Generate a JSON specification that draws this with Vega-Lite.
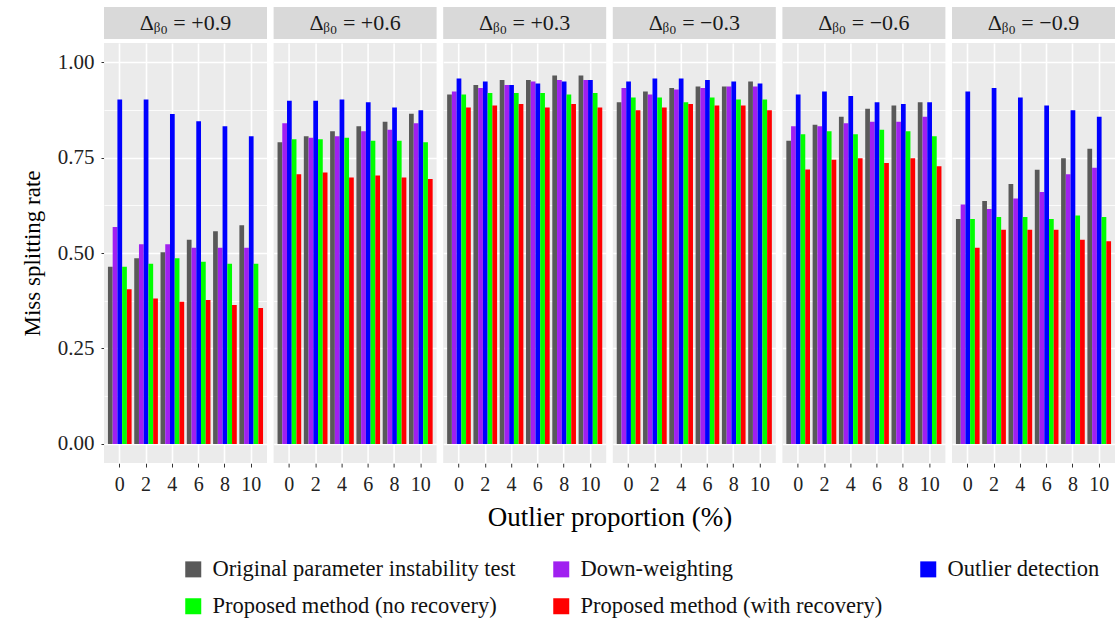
{
  "$schema": "https://vega.github.io/schema/vega-lite/v6.json",
  "background": "white",
  "padding": {"left": 21, "top": 7, "right": 2, "bottom": 6},
  "config": {
    "font": "Liberation Serif",
    "view": {"stroke": null},
    "axis": {"domain": false, "titleFontWeight": "normal", "labelFont": "Liberation Serif", "titleFont": "Liberation Serif"},
    "header": {"titleFontWeight": "normal", "titleFont": "Liberation Serif"},
    "legend": {"labelFont": "Liberation Serif"}
  },
  "datasets": {
    "strips": [
      {"panel": "Δᵦ₀ = +0.9"},
      {"panel": "Δᵦ₀ = +0.6"},
      {"panel": "Δᵦ₀ = +0.3"},
      {"panel": "Δᵦ₀ = −0.3"},
      {"panel": "Δᵦ₀ = −0.6"},
      {"panel": "Δᵦ₀ = −0.9"}
    ],
    "rates": [
      {"panel": "Δᵦ₀ = +0.9", "prop": 0, "Original parameter instability test": 0.464, "Down-weighting": 0.568, "Outlier detection": 0.902, "Proposed method (no recovery)": 0.464, "Proposed method (with recovery)": 0.405},
      {"panel": "Δᵦ₀ = +0.9", "prop": 2, "Original parameter instability test": 0.486, "Down-weighting": 0.523, "Outlier detection": 0.902, "Proposed method (no recovery)": 0.472, "Proposed method (with recovery)": 0.381},
      {"panel": "Δᵦ₀ = +0.9", "prop": 4, "Original parameter instability test": 0.502, "Down-weighting": 0.523, "Outlier detection": 0.864, "Proposed method (no recovery)": 0.486, "Proposed method (with recovery)": 0.372},
      {"panel": "Δᵦ₀ = +0.9", "prop": 6, "Original parameter instability test": 0.535, "Down-weighting": 0.514, "Outlier detection": 0.845, "Proposed method (no recovery)": 0.477, "Proposed method (with recovery)": 0.377},
      {"panel": "Δᵦ₀ = +0.9", "prop": 8, "Original parameter instability test": 0.557, "Down-weighting": 0.514, "Outlier detection": 0.832, "Proposed method (no recovery)": 0.472, "Proposed method (with recovery)": 0.364},
      {"panel": "Δᵦ₀ = +0.9", "prop": 10, "Original parameter instability test": 0.573, "Down-weighting": 0.514, "Outlier detection": 0.806, "Proposed method (no recovery)": 0.472, "Proposed method (with recovery)": 0.356},
      {"panel": "Δᵦ₀ = +0.6", "prop": 0, "Original parameter instability test": 0.790, "Down-weighting": 0.840, "Outlier detection": 0.899, "Proposed method (no recovery)": 0.798, "Proposed method (with recovery)": 0.706},
      {"panel": "Δᵦ₀ = +0.6", "prop": 2, "Original parameter instability test": 0.806, "Down-weighting": 0.802, "Outlier detection": 0.899, "Proposed method (no recovery)": 0.798, "Proposed method (with recovery)": 0.711},
      {"panel": "Δᵦ₀ = +0.6", "prop": 4, "Original parameter instability test": 0.819, "Down-weighting": 0.806, "Outlier detection": 0.902, "Proposed method (no recovery)": 0.802, "Proposed method (with recovery)": 0.698},
      {"panel": "Δᵦ₀ = +0.6", "prop": 6, "Original parameter instability test": 0.832, "Down-weighting": 0.819, "Outlier detection": 0.895, "Proposed method (no recovery)": 0.794, "Proposed method (with recovery)": 0.703},
      {"panel": "Δᵦ₀ = +0.6", "prop": 8, "Original parameter instability test": 0.844, "Down-weighting": 0.823, "Outlier detection": 0.881, "Proposed method (no recovery)": 0.794, "Proposed method (with recovery)": 0.698},
      {"panel": "Δᵦ₀ = +0.6", "prop": 10, "Original parameter instability test": 0.865, "Down-weighting": 0.840, "Outlier detection": 0.874, "Proposed method (no recovery)": 0.790, "Proposed method (with recovery)": 0.694},
      {"panel": "Δᵦ₀ = +0.3", "prop": 0, "Original parameter instability test": 0.915, "Down-weighting": 0.923, "Outlier detection": 0.957, "Proposed method (no recovery)": 0.915, "Proposed method (with recovery)": 0.881},
      {"panel": "Δᵦ₀ = +0.3", "prop": 2, "Original parameter instability test": 0.940, "Down-weighting": 0.932, "Outlier detection": 0.949, "Proposed method (no recovery)": 0.919, "Proposed method (with recovery)": 0.886},
      {"panel": "Δᵦ₀ = +0.3", "prop": 4, "Original parameter instability test": 0.953, "Down-weighting": 0.940, "Outlier detection": 0.940, "Proposed method (no recovery)": 0.919, "Proposed method (with recovery)": 0.890},
      {"panel": "Δᵦ₀ = +0.3", "prop": 6, "Original parameter instability test": 0.953, "Down-weighting": 0.949, "Outlier detection": 0.944, "Proposed method (no recovery)": 0.919, "Proposed method (with recovery)": 0.881},
      {"panel": "Δᵦ₀ = +0.3", "prop": 8, "Original parameter instability test": 0.965, "Down-weighting": 0.953, "Outlier detection": 0.949, "Proposed method (no recovery)": 0.915, "Proposed method (with recovery)": 0.890},
      {"panel": "Δᵦ₀ = +0.3", "prop": 10, "Original parameter instability test": 0.965, "Down-weighting": 0.953, "Outlier detection": 0.953, "Proposed method (no recovery)": 0.919, "Proposed method (with recovery)": 0.881},
      {"panel": "Δᵦ₀ = −0.3", "prop": 0, "Original parameter instability test": 0.895, "Down-weighting": 0.932, "Outlier detection": 0.949, "Proposed method (no recovery)": 0.907, "Proposed method (with recovery)": 0.874},
      {"panel": "Δᵦ₀ = −0.3", "prop": 2, "Original parameter instability test": 0.923, "Down-weighting": 0.915, "Outlier detection": 0.957, "Proposed method (no recovery)": 0.907, "Proposed method (with recovery)": 0.881},
      {"panel": "Δᵦ₀ = −0.3", "prop": 4, "Original parameter instability test": 0.932, "Down-weighting": 0.928, "Outlier detection": 0.957, "Proposed method (no recovery)": 0.895, "Proposed method (with recovery)": 0.890},
      {"panel": "Δᵦ₀ = −0.3", "prop": 6, "Original parameter instability test": 0.936, "Down-weighting": 0.932, "Outlier detection": 0.953, "Proposed method (no recovery)": 0.907, "Proposed method (with recovery)": 0.886},
      {"panel": "Δᵦ₀ = −0.3", "prop": 8, "Original parameter instability test": 0.936, "Down-weighting": 0.936, "Outlier detection": 0.949, "Proposed method (no recovery)": 0.902, "Proposed method (with recovery)": 0.886},
      {"panel": "Δᵦ₀ = −0.3", "prop": 10, "Original parameter instability test": 0.949, "Down-weighting": 0.936, "Outlier detection": 0.944, "Proposed method (no recovery)": 0.902, "Proposed method (with recovery)": 0.874},
      {"panel": "Δᵦ₀ = −0.6", "prop": 0, "Original parameter instability test": 0.794, "Down-weighting": 0.832, "Outlier detection": 0.915, "Proposed method (no recovery)": 0.811, "Proposed method (with recovery)": 0.719},
      {"panel": "Δᵦ₀ = −0.6", "prop": 2, "Original parameter instability test": 0.836, "Down-weighting": 0.832, "Outlier detection": 0.923, "Proposed method (no recovery)": 0.819, "Proposed method (with recovery)": 0.744},
      {"panel": "Δᵦ₀ = −0.6", "prop": 4, "Original parameter instability test": 0.857, "Down-weighting": 0.840, "Outlier detection": 0.911, "Proposed method (no recovery)": 0.811, "Proposed method (with recovery)": 0.748},
      {"panel": "Δᵦ₀ = −0.6", "prop": 6, "Original parameter instability test": 0.878, "Down-weighting": 0.844, "Outlier detection": 0.895, "Proposed method (no recovery)": 0.823, "Proposed method (with recovery)": 0.736},
      {"panel": "Δᵦ₀ = −0.6", "prop": 8, "Original parameter instability test": 0.886, "Down-weighting": 0.844, "Outlier detection": 0.890, "Proposed method (no recovery)": 0.819, "Proposed method (with recovery)": 0.748},
      {"panel": "Δᵦ₀ = −0.6", "prop": 10, "Original parameter instability test": 0.895, "Down-weighting": 0.857, "Outlier detection": 0.895, "Proposed method (no recovery)": 0.806, "Proposed method (with recovery)": 0.727},
      {"panel": "Δᵦ₀ = −0.9", "prop": 0, "Original parameter instability test": 0.589, "Down-weighting": 0.627, "Outlier detection": 0.923, "Proposed method (no recovery)": 0.589, "Proposed method (with recovery)": 0.514},
      {"panel": "Δᵦ₀ = −0.9", "prop": 2, "Original parameter instability test": 0.636, "Down-weighting": 0.615, "Outlier detection": 0.932, "Proposed method (no recovery)": 0.594, "Proposed method (with recovery)": 0.561},
      {"panel": "Δᵦ₀ = −0.9", "prop": 4, "Original parameter instability test": 0.681, "Down-weighting": 0.643, "Outlier detection": 0.907, "Proposed method (no recovery)": 0.594, "Proposed method (with recovery)": 0.561},
      {"panel": "Δᵦ₀ = −0.9", "prop": 6, "Original parameter instability test": 0.718, "Down-weighting": 0.660, "Outlier detection": 0.886, "Proposed method (no recovery)": 0.589, "Proposed method (with recovery)": 0.561},
      {"panel": "Δᵦ₀ = −0.9", "prop": 8, "Original parameter instability test": 0.748, "Down-weighting": 0.706, "Outlier detection": 0.874, "Proposed method (no recovery)": 0.598, "Proposed method (with recovery)": 0.535},
      {"panel": "Δᵦ₀ = −0.9", "prop": 10, "Original parameter instability test": 0.773, "Down-weighting": 0.723, "Outlier detection": 0.857, "Proposed method (no recovery)": 0.594, "Proposed method (with recovery)": 0.531}
    ]
  },
  "spacing": 4,
  "vconcat": [
    {
      "data": {"name": "strips"},
      "facet": {
        "column": {
          "field": "panel",
          "sort": ["Δᵦ₀ = +0.9", "Δᵦ₀ = +0.6", "Δᵦ₀ = +0.3", "Δᵦ₀ = −0.3", "Δᵦ₀ = −0.6", "Δᵦ₀ = −0.9"],
          "header": null
        }
      },
      "spacing": 6.6,
      "spec": {
        "width": 163,
        "height": 32,
        "view": {"fill": "#D9D9D9", "stroke": null},
        "mark": {"type": "text", "fontSize": 22, "color": "#1A1A1A", "font": "Liberation Serif"},
        "encoding": {"text": {"field": "panel"}}
      }
    },
    {
      "data": {"name": "rates"},
      "transform": [
        {
          "fold": ["Original parameter instability test", "Down-weighting", "Outlier detection", "Proposed method (no recovery)", "Proposed method (with recovery)"],
          "as": ["method", "rate"]
        }
      ],
      "facet": {
        "column": {
          "field": "panel",
          "sort": ["Δᵦ₀ = +0.9", "Δᵦ₀ = +0.6", "Δᵦ₀ = +0.3", "Δᵦ₀ = −0.3", "Δᵦ₀ = −0.6", "Δᵦ₀ = −0.9"],
          "title": "Outlier proportion (%)",
          "header": {
            "labels": false,
            "titleOrient": "bottom",
            "titleFontSize": 27,
            "titleColor": "black",
            "titlePadding": 1
          }
        }
      },
      "spacing": 6.6,
      "spec": {
        "width": 163,
        "height": 420,
        "view": {"fill": "#EBEBEB", "stroke": null},
        "mark": {"type": "bar"},
        "encoding": {
          "x": {
            "field": "prop",
            "type": "ordinal",
            "scale": {"paddingInner": 0.1, "paddingOuter": 0.15},
            "axis": {
              "title": null,
              "labelAngle": 0,
              "labelFontSize": 20,
              "labelColor": "#222222",
              "labelPadding": 7,
              "tickSize": 4,
              "tickColor": "#333333",
              "grid": true,
              "gridColor": "white",
              "gridWidth": 1.6,
              "bandPosition": 0.5
            }
          },
          "xOffset": {
            "field": "method",
            "sort": ["Original parameter instability test", "Down-weighting", "Outlier detection", "Proposed method (no recovery)", "Proposed method (with recovery)"],
            "scale": {"paddingInner": 0, "paddingOuter": 0}
          },
          "y": {
            "field": "rate",
            "type": "quantitative",
            "stack": null,
            "scale": {"domain": [-0.05, 1.05], "nice": false, "zero": false},
            "axis": {
              "title": "Miss splitting rate",
              "titleFontSize": 23,
              "titleColor": "black",
              "titlePadding": 13,
              "values": [0, 0.125, 0.25, 0.375, 0.5, 0.625, 0.75, 0.875, 1],
              "labelExpr": "datum.value * 4 % 1 === 0 ? format(datum.value, '.2f') : ''",
              "labelFontSize": 21,
              "labelColor": "#222222",
              "labelPadding": 7,
              "tickSize": 3,
              "tickColor": "#333333",
              "tickOpacity": {"condition": {"test": "datum.value * 4 % 1 === 0", "value": 1}, "value": 0},
              "gridColor": "white",
              "gridWidth": {"condition": {"test": "datum.value * 4 % 1 === 0", "value": 1.6}, "value": 0.8}
            }
          },
          "color": {
            "field": "method",
            "type": "nominal",
            "scale": {
              "domain": ["Original parameter instability test", "Down-weighting", "Outlier detection", "Proposed method (no recovery)", "Proposed method (with recovery)"],
              "range": ["#595959", "#A020F0", "#0000FF", "#00FF00", "#FF0000"]
            },
            "legend": {
              "title": null,
              "orient": "bottom",
              "offset": -51,
              "padding": 78,
              "direction": "horizontal",
              "columns": 3,
              "columnPadding": 34,
              "rowPadding": 14,
              "symbolType": "square",
              "symbolSize": 256,
              "symbolStrokeWidth": 0,
              "labelFontSize": 22.5,
              "labelColor": "#111111",
              "labelLimit": 400,
              "labelOffset": 8,
              "labelExpr": "datum.label === 'Proposed method (no recovery)' ? datum.label + '\u00a0\u00a0\u00a0\u00a0' : datum.label"
            }
          }
        }
      }
    }
  ]
}
